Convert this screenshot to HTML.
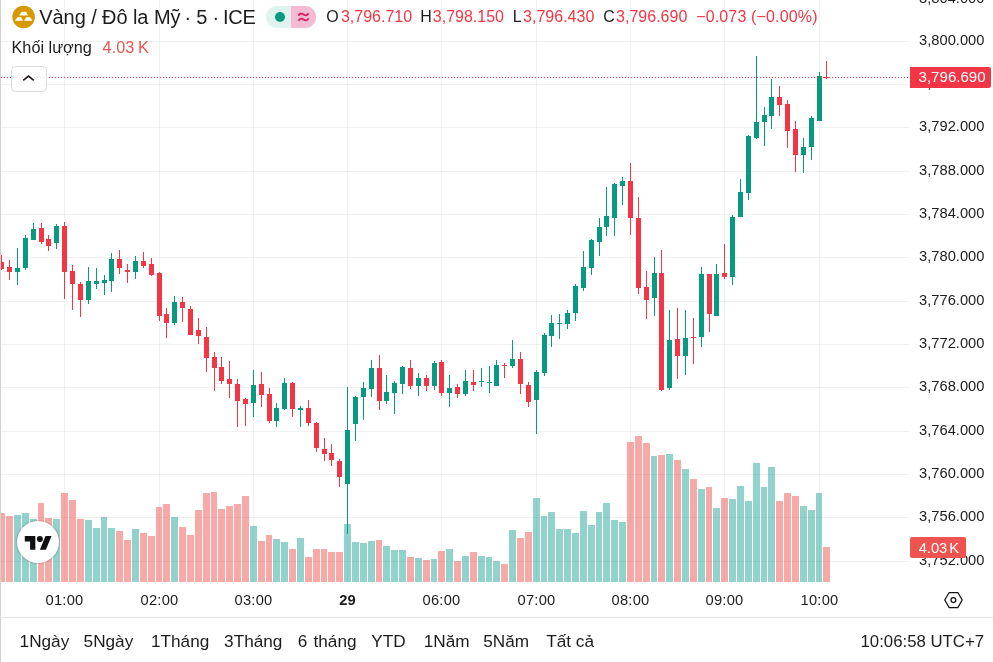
<!DOCTYPE html>
<html lang="vi"><head><meta charset="utf-8"><title>Vàng / Đô la Mỹ</title>
<style>
html,body{margin:0;padding:0;background:#fff;}
body{width:993px;height:662px;position:relative;overflow:hidden;font-family:"Liberation Sans",sans-serif;color:#1c1c1c;}
.chart{position:absolute;left:0;top:0;}
.abs{position:absolute;white-space:nowrap;}
.lb{position:absolute;left:0;top:0;width:1px;height:662px;background:#d2d2d2;}
.sep{position:absolute;left:0;top:617px;width:993px;height:1px;background:#e4e4e6;}
.pl{position:absolute;left:919.1px;width:70px;height:20px;line-height:20px;font-size:14.7px;white-space:nowrap;}
.tl{position:absolute;top:589.8px;width:80px;height:20px;line-height:20px;text-align:center;font-size:14.7px;letter-spacing:.2px;}
.tl.b{font-weight:bold;}
.title{left:39.3px;top:4.8px;height:24px;line-height:24px;font-size:20px;letter-spacing:-.175px;}
.oh{top:7.4px;height:20px;line-height:20px;font-size:16px;}
.red{color:#f23645;}
.vol{left:11.5px;top:36.6px;height:20px;line-height:20px;font-size:16.25px;}
.volv{left:102.6px;top:36.6px;height:20px;line-height:20px;font-size:16.25px;color:#ef5350;word-spacing:-.8px;}
.pill{position:absolute;left:266px;top:6px;width:50.3px;height:22px;border-radius:11px;overflow:hidden;background:#dff3ef;}
.pill .r{position:absolute;left:24.7px;top:0;width:26px;height:22px;background:#f4bbd2;}
.pill .d{position:absolute;left:9px;top:6px;width:10px;height:10px;border-radius:5px;background:#089981;}
.btn{position:absolute;left:11px;top:66px;width:33.8px;height:23.8px;border:1px solid #dadadc;border-radius:4.5px;background:rgba(255,255,255,.8);}
.ptag{position:absolute;left:910px;top:67px;width:81px;height:21px;border-radius:0 2.5px 2.5px 0;background:#f23645;color:#fff;font-size:15.1px;line-height:19px;text-indent:8.5px;}
.vtag{position:absolute;left:910px;top:537px;width:55.6px;height:21px;border-radius:2px;background:#ef5350;color:#fff;font-size:14.7px;line-height:22.6px;text-indent:8.7px;word-spacing:-2px;}
.tb{top:630px;height:22px;line-height:22px;font-size:17.2px;}
.clock{left:860.5px;top:630.6px;height:22px;line-height:22px;font-size:16.8px;}
.logo{position:absolute;left:16.7px;top:520.9px;width:42.4px;height:42.4px;border-radius:50%;background:#fff;box-shadow:0 0 0 1px rgba(0,0,0,.07),0 0 3px rgba(0,0,0,.18);}
</style></head><body>
<svg class="chart" width="993" height="662" viewBox="0 0 993 662" shape-rendering="crispEdges">
<rect x="1" y="41" width="908" height="1" fill="rgba(42,46,57,0.065)"/>
<rect x="1" y="84" width="908" height="1" fill="rgba(42,46,57,0.065)"/>
<rect x="1" y="127" width="908" height="1" fill="rgba(42,46,57,0.065)"/>
<rect x="1" y="171" width="908" height="1" fill="rgba(42,46,57,0.065)"/>
<rect x="1" y="214" width="908" height="1" fill="rgba(42,46,57,0.065)"/>
<rect x="1" y="257" width="908" height="1" fill="rgba(42,46,57,0.065)"/>
<rect x="1" y="301" width="908" height="1" fill="rgba(42,46,57,0.065)"/>
<rect x="1" y="344" width="908" height="1" fill="rgba(42,46,57,0.065)"/>
<rect x="1" y="387" width="908" height="1" fill="rgba(42,46,57,0.065)"/>
<rect x="1" y="431" width="908" height="1" fill="rgba(42,46,57,0.065)"/>
<rect x="1" y="474" width="908" height="1" fill="rgba(42,46,57,0.065)"/>
<rect x="1" y="517" width="908" height="1" fill="rgba(42,46,57,0.065)"/>
<rect x="1" y="561" width="908" height="1" fill="rgba(42,46,57,0.065)"/>
<rect x="64" y="0" width="1" height="582" fill="rgba(42,46,57,0.065)"/>
<rect x="159" y="0" width="1" height="582" fill="rgba(42,46,57,0.065)"/>
<rect x="253" y="0" width="1" height="582" fill="rgba(42,46,57,0.065)"/>
<rect x="347" y="0" width="1" height="582" fill="rgba(42,46,57,0.065)"/>
<rect x="441" y="0" width="1" height="582" fill="rgba(42,46,57,0.065)"/>
<rect x="536" y="0" width="1" height="582" fill="rgba(42,46,57,0.065)"/>
<rect x="630" y="0" width="1" height="582" fill="rgba(42,46,57,0.065)"/>
<rect x="724" y="0" width="1" height="582" fill="rgba(42,46,57,0.065)"/>
<rect x="819" y="0" width="1" height="582" fill="rgba(42,46,57,0.065)"/>
<rect x="1" y="513" width="4" height="69" fill="rgba(239,83,80,0.5)"/>
<rect x="6" y="516" width="7" height="66" fill="rgba(239,83,80,0.5)"/>
<rect x="14" y="515" width="7" height="67" fill="rgba(38,166,154,0.5)"/>
<rect x="22" y="513" width="7" height="69" fill="rgba(38,166,154,0.5)"/>
<rect x="30" y="519" width="7" height="63" fill="rgba(38,166,154,0.5)"/>
<rect x="38" y="503" width="6" height="79" fill="rgba(239,83,80,0.5)"/>
<rect x="45" y="518" width="7" height="64" fill="rgba(239,83,80,0.5)"/>
<rect x="53" y="519" width="7" height="63" fill="rgba(38,166,154,0.5)"/>
<rect x="61" y="493" width="7" height="89" fill="rgba(239,83,80,0.5)"/>
<rect x="69" y="500" width="7" height="82" fill="rgba(239,83,80,0.5)"/>
<rect x="77" y="519" width="7" height="63" fill="rgba(239,83,80,0.5)"/>
<rect x="85" y="520" width="7" height="62" fill="rgba(38,166,154,0.5)"/>
<rect x="93" y="528" width="7" height="54" fill="rgba(38,166,154,0.5)"/>
<rect x="101" y="517" width="6" height="65" fill="rgba(38,166,154,0.5)"/>
<rect x="108" y="528" width="7" height="54" fill="rgba(38,166,154,0.5)"/>
<rect x="116" y="531" width="7" height="51" fill="rgba(239,83,80,0.5)"/>
<rect x="124" y="540" width="7" height="42" fill="rgba(239,83,80,0.5)"/>
<rect x="132" y="529" width="7" height="53" fill="rgba(38,166,154,0.5)"/>
<rect x="140" y="533" width="7" height="49" fill="rgba(239,83,80,0.5)"/>
<rect x="148" y="536" width="7" height="46" fill="rgba(239,83,80,0.5)"/>
<rect x="156" y="507" width="6" height="75" fill="rgba(239,83,80,0.5)"/>
<rect x="163" y="504" width="7" height="78" fill="rgba(239,83,80,0.5)"/>
<rect x="171" y="517" width="7" height="65" fill="rgba(38,166,154,0.5)"/>
<rect x="179" y="527" width="7" height="55" fill="rgba(239,83,80,0.5)"/>
<rect x="187" y="535" width="7" height="47" fill="rgba(239,83,80,0.5)"/>
<rect x="195" y="510" width="7" height="72" fill="rgba(239,83,80,0.5)"/>
<rect x="203" y="493" width="7" height="89" fill="rgba(239,83,80,0.5)"/>
<rect x="211" y="492" width="6" height="90" fill="rgba(239,83,80,0.5)"/>
<rect x="218" y="509" width="7" height="73" fill="rgba(239,83,80,0.5)"/>
<rect x="226" y="506" width="7" height="76" fill="rgba(239,83,80,0.5)"/>
<rect x="234" y="504" width="7" height="78" fill="rgba(239,83,80,0.5)"/>
<rect x="242" y="496" width="7" height="86" fill="rgba(239,83,80,0.5)"/>
<rect x="250" y="526" width="7" height="56" fill="rgba(38,166,154,0.5)"/>
<rect x="258" y="541" width="7" height="41" fill="rgba(239,83,80,0.5)"/>
<rect x="266" y="535" width="6" height="47" fill="rgba(239,83,80,0.5)"/>
<rect x="273" y="539" width="7" height="43" fill="rgba(38,166,154,0.5)"/>
<rect x="281" y="542" width="7" height="40" fill="rgba(38,166,154,0.5)"/>
<rect x="289" y="549" width="7" height="33" fill="rgba(239,83,80,0.5)"/>
<rect x="297" y="538" width="7" height="44" fill="rgba(38,166,154,0.5)"/>
<rect x="305" y="557" width="7" height="25" fill="rgba(239,83,80,0.5)"/>
<rect x="313" y="549" width="7" height="33" fill="rgba(239,83,80,0.5)"/>
<rect x="321" y="549" width="6" height="33" fill="rgba(239,83,80,0.5)"/>
<rect x="328" y="552" width="7" height="30" fill="rgba(239,83,80,0.5)"/>
<rect x="336" y="552" width="7" height="30" fill="rgba(239,83,80,0.5)"/>
<rect x="344" y="524" width="7" height="58" fill="rgba(38,166,154,0.5)"/>
<rect x="352" y="542" width="7" height="40" fill="rgba(38,166,154,0.5)"/>
<rect x="360" y="543" width="7" height="39" fill="rgba(38,166,154,0.5)"/>
<rect x="368" y="541" width="7" height="41" fill="rgba(38,166,154,0.5)"/>
<rect x="376" y="540" width="6" height="42" fill="rgba(239,83,80,0.5)"/>
<rect x="383" y="546" width="7" height="36" fill="rgba(38,166,154,0.5)"/>
<rect x="391" y="550" width="7" height="32" fill="rgba(38,166,154,0.5)"/>
<rect x="399" y="550" width="7" height="32" fill="rgba(38,166,154,0.5)"/>
<rect x="407" y="557" width="7" height="25" fill="rgba(239,83,80,0.5)"/>
<rect x="415" y="558" width="7" height="24" fill="rgba(38,166,154,0.5)"/>
<rect x="423" y="560" width="7" height="22" fill="rgba(239,83,80,0.5)"/>
<rect x="431" y="559" width="6" height="23" fill="rgba(38,166,154,0.5)"/>
<rect x="438" y="551" width="7" height="31" fill="rgba(239,83,80,0.5)"/>
<rect x="446" y="549" width="7" height="33" fill="rgba(38,166,154,0.5)"/>
<rect x="454" y="561" width="7" height="21" fill="rgba(239,83,80,0.5)"/>
<rect x="462" y="556" width="7" height="26" fill="rgba(38,166,154,0.5)"/>
<rect x="470" y="552" width="7" height="30" fill="rgba(239,83,80,0.5)"/>
<rect x="478" y="556" width="7" height="26" fill="rgba(38,166,154,0.5)"/>
<rect x="486" y="557" width="6" height="25" fill="rgba(38,166,154,0.5)"/>
<rect x="493" y="561" width="7" height="21" fill="rgba(38,166,154,0.5)"/>
<rect x="501" y="564" width="7" height="18" fill="rgba(239,83,80,0.5)"/>
<rect x="509" y="530" width="7" height="52" fill="rgba(38,166,154,0.5)"/>
<rect x="517" y="538" width="7" height="44" fill="rgba(239,83,80,0.5)"/>
<rect x="525" y="532" width="7" height="50" fill="rgba(239,83,80,0.5)"/>
<rect x="533" y="498" width="7" height="84" fill="rgba(38,166,154,0.5)"/>
<rect x="541" y="516" width="6" height="66" fill="rgba(38,166,154,0.5)"/>
<rect x="548" y="512" width="7" height="70" fill="rgba(38,166,154,0.5)"/>
<rect x="556" y="529" width="7" height="53" fill="rgba(38,166,154,0.5)"/>
<rect x="564" y="529" width="7" height="53" fill="rgba(38,166,154,0.5)"/>
<rect x="572" y="533" width="7" height="49" fill="rgba(38,166,154,0.5)"/>
<rect x="580" y="511" width="7" height="71" fill="rgba(38,166,154,0.5)"/>
<rect x="588" y="525" width="7" height="57" fill="rgba(38,166,154,0.5)"/>
<rect x="596" y="512" width="6" height="70" fill="rgba(38,166,154,0.5)"/>
<rect x="603" y="503" width="7" height="79" fill="rgba(38,166,154,0.5)"/>
<rect x="611" y="520" width="7" height="62" fill="rgba(38,166,154,0.5)"/>
<rect x="619" y="522" width="7" height="60" fill="rgba(38,166,154,0.5)"/>
<rect x="627" y="442" width="7" height="140" fill="rgba(239,83,80,0.5)"/>
<rect x="635" y="436" width="7" height="146" fill="rgba(239,83,80,0.5)"/>
<rect x="643" y="443" width="7" height="139" fill="rgba(239,83,80,0.5)"/>
<rect x="651" y="456" width="6" height="126" fill="rgba(38,166,154,0.5)"/>
<rect x="658" y="455" width="7" height="127" fill="rgba(239,83,80,0.5)"/>
<rect x="666" y="454" width="7" height="128" fill="rgba(38,166,154,0.5)"/>
<rect x="674" y="460" width="7" height="122" fill="rgba(239,83,80,0.5)"/>
<rect x="682" y="469" width="7" height="113" fill="rgba(38,166,154,0.5)"/>
<rect x="690" y="479" width="7" height="103" fill="rgba(239,83,80,0.5)"/>
<rect x="698" y="489" width="7" height="93" fill="rgba(38,166,154,0.5)"/>
<rect x="706" y="487" width="6" height="95" fill="rgba(239,83,80,0.5)"/>
<rect x="713" y="508" width="7" height="74" fill="rgba(38,166,154,0.5)"/>
<rect x="721" y="498" width="7" height="84" fill="rgba(239,83,80,0.5)"/>
<rect x="729" y="499" width="7" height="83" fill="rgba(38,166,154,0.5)"/>
<rect x="737" y="486" width="7" height="96" fill="rgba(38,166,154,0.5)"/>
<rect x="745" y="501" width="7" height="81" fill="rgba(38,166,154,0.5)"/>
<rect x="753" y="463" width="7" height="119" fill="rgba(38,166,154,0.5)"/>
<rect x="761" y="487" width="6" height="95" fill="rgba(38,166,154,0.5)"/>
<rect x="768" y="467" width="7" height="115" fill="rgba(38,166,154,0.5)"/>
<rect x="776" y="501" width="7" height="81" fill="rgba(239,83,80,0.5)"/>
<rect x="784" y="493" width="7" height="89" fill="rgba(239,83,80,0.5)"/>
<rect x="792" y="496" width="7" height="86" fill="rgba(239,83,80,0.5)"/>
<rect x="800" y="506" width="7" height="76" fill="rgba(38,166,154,0.5)"/>
<rect x="808" y="510" width="7" height="72" fill="rgba(38,166,154,0.5)"/>
<rect x="816" y="493" width="6" height="89" fill="rgba(38,166,154,0.5)"/>
<rect x="823" y="547" width="7" height="35" fill="rgba(239,83,80,0.5)"/>
<rect x="1" y="255" width="1" height="15" fill="#f23645"/>
<rect x="1" y="262" width="3" height="7" fill="#f23645"/>
<rect x="9" y="260" width="1" height="20" fill="#f23645"/>
<rect x="7" y="267" width="5" height="5" fill="#f23645"/>
<rect x="17" y="248" width="1" height="37" fill="#089981"/>
<rect x="15" y="268" width="5" height="4" fill="#089981"/>
<rect x="25" y="235" width="1" height="35" fill="#089981"/>
<rect x="23" y="238" width="5" height="30" fill="#089981"/>
<rect x="33" y="223" width="1" height="17" fill="#089981"/>
<rect x="31" y="229" width="5" height="11" fill="#089981"/>
<rect x="41" y="223" width="1" height="21" fill="#f23645"/>
<rect x="39" y="228" width="5" height="14" fill="#f23645"/>
<rect x="48" y="235" width="1" height="16" fill="#f23645"/>
<rect x="46" y="239" width="5" height="7" fill="#f23645"/>
<rect x="56" y="224" width="1" height="25" fill="#089981"/>
<rect x="54" y="226" width="5" height="17" fill="#089981"/>
<rect x="64" y="222" width="1" height="77" fill="#f23645"/>
<rect x="62" y="226" width="5" height="46" fill="#f23645"/>
<rect x="72" y="265" width="1" height="45" fill="#f23645"/>
<rect x="70" y="271" width="5" height="13" fill="#f23645"/>
<rect x="80" y="282" width="1" height="35" fill="#f23645"/>
<rect x="78" y="284" width="5" height="16" fill="#f23645"/>
<rect x="88" y="267" width="1" height="37" fill="#089981"/>
<rect x="86" y="281" width="5" height="19" fill="#089981"/>
<rect x="96" y="268" width="1" height="21" fill="#089981"/>
<rect x="94" y="281" width="5" height="3" fill="#089981"/>
<rect x="104" y="275" width="1" height="20" fill="#089981"/>
<rect x="102" y="280" width="5" height="3" fill="#089981"/>
<rect x="111" y="253" width="1" height="39" fill="#089981"/>
<rect x="109" y="259" width="5" height="22" fill="#089981"/>
<rect x="119" y="250" width="1" height="24" fill="#f23645"/>
<rect x="117" y="259" width="5" height="9" fill="#f23645"/>
<rect x="127" y="264" width="1" height="19" fill="#f23645"/>
<rect x="125" y="270" width="5" height="2" fill="#f23645"/>
<rect x="135" y="256" width="1" height="23" fill="#089981"/>
<rect x="133" y="261" width="5" height="11" fill="#089981"/>
<rect x="143" y="252" width="1" height="16" fill="#f23645"/>
<rect x="141" y="261" width="5" height="5" fill="#f23645"/>
<rect x="151" y="258" width="1" height="18" fill="#f23645"/>
<rect x="149" y="264" width="5" height="11" fill="#f23645"/>
<rect x="159" y="272" width="1" height="49" fill="#f23645"/>
<rect x="157" y="273" width="5" height="43" fill="#f23645"/>
<rect x="166" y="308" width="1" height="30" fill="#f23645"/>
<rect x="164" y="314" width="5" height="9" fill="#f23645"/>
<rect x="174" y="296" width="1" height="29" fill="#089981"/>
<rect x="172" y="302" width="5" height="21" fill="#089981"/>
<rect x="182" y="297" width="1" height="25" fill="#f23645"/>
<rect x="180" y="302" width="5" height="6" fill="#f23645"/>
<rect x="190" y="306" width="1" height="29" fill="#f23645"/>
<rect x="188" y="309" width="5" height="26" fill="#f23645"/>
<rect x="198" y="318" width="1" height="26" fill="#f23645"/>
<rect x="196" y="330" width="5" height="6" fill="#f23645"/>
<rect x="206" y="327" width="1" height="45" fill="#f23645"/>
<rect x="204" y="337" width="5" height="21" fill="#f23645"/>
<rect x="214" y="352" width="1" height="39" fill="#f23645"/>
<rect x="212" y="357" width="5" height="11" fill="#f23645"/>
<rect x="221" y="357" width="1" height="27" fill="#f23645"/>
<rect x="219" y="367" width="5" height="14" fill="#f23645"/>
<rect x="229" y="361" width="1" height="37" fill="#f23645"/>
<rect x="227" y="379" width="5" height="5" fill="#f23645"/>
<rect x="237" y="379" width="1" height="48" fill="#f23645"/>
<rect x="235" y="384" width="5" height="17" fill="#f23645"/>
<rect x="245" y="398" width="1" height="28" fill="#f23645"/>
<rect x="243" y="399" width="5" height="5" fill="#f23645"/>
<rect x="253" y="370" width="1" height="47" fill="#089981"/>
<rect x="251" y="385" width="5" height="18" fill="#089981"/>
<rect x="261" y="372" width="1" height="35" fill="#f23645"/>
<rect x="259" y="384" width="5" height="11" fill="#f23645"/>
<rect x="269" y="388" width="1" height="35" fill="#f23645"/>
<rect x="267" y="394" width="5" height="27" fill="#f23645"/>
<rect x="276" y="403" width="1" height="24" fill="#089981"/>
<rect x="274" y="408" width="5" height="13" fill="#089981"/>
<rect x="284" y="378" width="1" height="32" fill="#089981"/>
<rect x="282" y="383" width="5" height="26" fill="#089981"/>
<rect x="292" y="382" width="1" height="35" fill="#f23645"/>
<rect x="290" y="383" width="5" height="26" fill="#f23645"/>
<rect x="300" y="406" width="1" height="21" fill="#089981"/>
<rect x="298" y="408" width="5" height="2" fill="#089981"/>
<rect x="308" y="400" width="1" height="26" fill="#f23645"/>
<rect x="306" y="408" width="5" height="15" fill="#f23645"/>
<rect x="316" y="422" width="1" height="30" fill="#f23645"/>
<rect x="314" y="423" width="5" height="25" fill="#f23645"/>
<rect x="324" y="438" width="1" height="23" fill="#f23645"/>
<rect x="322" y="449" width="5" height="5" fill="#f23645"/>
<rect x="331" y="444" width="1" height="22" fill="#f23645"/>
<rect x="329" y="453" width="5" height="7" fill="#f23645"/>
<rect x="339" y="459" width="1" height="28" fill="#f23645"/>
<rect x="337" y="461" width="5" height="16" fill="#f23645"/>
<rect x="347" y="387" width="1" height="147" fill="#089981"/>
<rect x="345" y="430" width="5" height="54" fill="#089981"/>
<rect x="355" y="396" width="1" height="45" fill="#089981"/>
<rect x="353" y="397" width="5" height="27" fill="#089981"/>
<rect x="363" y="382" width="1" height="38" fill="#089981"/>
<rect x="361" y="388" width="5" height="9" fill="#089981"/>
<rect x="371" y="360" width="1" height="37" fill="#089981"/>
<rect x="369" y="368" width="5" height="21" fill="#089981"/>
<rect x="379" y="355" width="1" height="55" fill="#f23645"/>
<rect x="377" y="368" width="5" height="33" fill="#f23645"/>
<rect x="386" y="375" width="1" height="29" fill="#089981"/>
<rect x="384" y="392" width="5" height="9" fill="#089981"/>
<rect x="394" y="381" width="1" height="33" fill="#089981"/>
<rect x="392" y="383" width="5" height="10" fill="#089981"/>
<rect x="402" y="366" width="1" height="28" fill="#089981"/>
<rect x="400" y="367" width="5" height="17" fill="#089981"/>
<rect x="410" y="360" width="1" height="29" fill="#f23645"/>
<rect x="408" y="368" width="5" height="18" fill="#f23645"/>
<rect x="418" y="373" width="1" height="23" fill="#089981"/>
<rect x="416" y="378" width="5" height="8" fill="#089981"/>
<rect x="426" y="375" width="1" height="16" fill="#f23645"/>
<rect x="424" y="378" width="5" height="8" fill="#f23645"/>
<rect x="434" y="361" width="1" height="29" fill="#089981"/>
<rect x="432" y="363" width="5" height="23" fill="#089981"/>
<rect x="441" y="360" width="1" height="36" fill="#f23645"/>
<rect x="439" y="362" width="5" height="31" fill="#f23645"/>
<rect x="449" y="375" width="1" height="32" fill="#089981"/>
<rect x="447" y="388" width="5" height="5" fill="#089981"/>
<rect x="457" y="384" width="1" height="14" fill="#f23645"/>
<rect x="455" y="387" width="5" height="7" fill="#f23645"/>
<rect x="465" y="370" width="1" height="26" fill="#089981"/>
<rect x="463" y="381" width="5" height="13" fill="#089981"/>
<rect x="473" y="370" width="1" height="21" fill="#f23645"/>
<rect x="471" y="382" width="5" height="3" fill="#f23645"/>
<rect x="481" y="368" width="1" height="19" fill="#089981"/>
<rect x="479" y="381" width="5" height="1" fill="#089981"/>
<rect x="489" y="366" width="1" height="27" fill="#089981"/>
<rect x="487" y="382" width="5" height="1" fill="#089981"/>
<rect x="496" y="360" width="1" height="26" fill="#089981"/>
<rect x="494" y="365" width="5" height="21" fill="#089981"/>
<rect x="504" y="363" width="1" height="15" fill="#f23645"/>
<rect x="502" y="365" width="5" height="1" fill="#f23645"/>
<rect x="512" y="340" width="1" height="28" fill="#089981"/>
<rect x="510" y="359" width="5" height="7" fill="#089981"/>
<rect x="520" y="352" width="1" height="42" fill="#f23645"/>
<rect x="518" y="359" width="5" height="25" fill="#f23645"/>
<rect x="528" y="382" width="1" height="25" fill="#f23645"/>
<rect x="526" y="385" width="5" height="17" fill="#f23645"/>
<rect x="536" y="370" width="1" height="64" fill="#089981"/>
<rect x="534" y="372" width="5" height="28" fill="#089981"/>
<rect x="544" y="333" width="1" height="43" fill="#089981"/>
<rect x="542" y="335" width="5" height="38" fill="#089981"/>
<rect x="551" y="315" width="1" height="32" fill="#089981"/>
<rect x="549" y="323" width="5" height="13" fill="#089981"/>
<rect x="559" y="314" width="1" height="25" fill="#089981"/>
<rect x="557" y="323" width="5" height="1" fill="#089981"/>
<rect x="567" y="310" width="1" height="19" fill="#089981"/>
<rect x="565" y="313" width="5" height="11" fill="#089981"/>
<rect x="575" y="284" width="1" height="37" fill="#089981"/>
<rect x="573" y="286" width="5" height="27" fill="#089981"/>
<rect x="583" y="251" width="1" height="40" fill="#089981"/>
<rect x="581" y="267" width="5" height="21" fill="#089981"/>
<rect x="591" y="239" width="1" height="36" fill="#089981"/>
<rect x="589" y="240" width="5" height="28" fill="#089981"/>
<rect x="599" y="218" width="1" height="38" fill="#089981"/>
<rect x="597" y="227" width="5" height="15" fill="#089981"/>
<rect x="606" y="187" width="1" height="49" fill="#089981"/>
<rect x="604" y="216" width="5" height="11" fill="#089981"/>
<rect x="614" y="183" width="1" height="53" fill="#089981"/>
<rect x="612" y="184" width="5" height="34" fill="#089981"/>
<rect x="622" y="177" width="1" height="28" fill="#089981"/>
<rect x="620" y="181" width="5" height="5" fill="#089981"/>
<rect x="630" y="163" width="1" height="72" fill="#f23645"/>
<rect x="628" y="181" width="5" height="37" fill="#f23645"/>
<rect x="638" y="197" width="1" height="97" fill="#f23645"/>
<rect x="636" y="218" width="5" height="70" fill="#f23645"/>
<rect x="646" y="271" width="1" height="48" fill="#f23645"/>
<rect x="644" y="287" width="5" height="13" fill="#f23645"/>
<rect x="654" y="257" width="1" height="59" fill="#089981"/>
<rect x="652" y="273" width="5" height="25" fill="#089981"/>
<rect x="661" y="250" width="1" height="141" fill="#f23645"/>
<rect x="659" y="273" width="5" height="117" fill="#f23645"/>
<rect x="669" y="310" width="1" height="80" fill="#089981"/>
<rect x="667" y="340" width="5" height="48" fill="#089981"/>
<rect x="677" y="308" width="1" height="71" fill="#f23645"/>
<rect x="675" y="339" width="5" height="17" fill="#f23645"/>
<rect x="685" y="310" width="1" height="65" fill="#089981"/>
<rect x="683" y="338" width="5" height="18" fill="#089981"/>
<rect x="693" y="318" width="1" height="46" fill="#f23645"/>
<rect x="691" y="337" width="5" height="1" fill="#f23645"/>
<rect x="701" y="267" width="1" height="80" fill="#089981"/>
<rect x="699" y="274" width="5" height="63" fill="#089981"/>
<rect x="709" y="274" width="1" height="58" fill="#f23645"/>
<rect x="707" y="274" width="5" height="40" fill="#f23645"/>
<rect x="716" y="264" width="1" height="52" fill="#089981"/>
<rect x="714" y="274" width="5" height="42" fill="#089981"/>
<rect x="724" y="244" width="1" height="35" fill="#f23645"/>
<rect x="722" y="273" width="5" height="4" fill="#f23645"/>
<rect x="732" y="215" width="1" height="70" fill="#089981"/>
<rect x="730" y="217" width="5" height="60" fill="#089981"/>
<rect x="740" y="179" width="1" height="38" fill="#089981"/>
<rect x="738" y="192" width="5" height="25" fill="#089981"/>
<rect x="748" y="135" width="1" height="65" fill="#089981"/>
<rect x="746" y="136" width="5" height="57" fill="#089981"/>
<rect x="756" y="56" width="1" height="83" fill="#089981"/>
<rect x="754" y="122" width="5" height="16" fill="#089981"/>
<rect x="764" y="107" width="1" height="39" fill="#089981"/>
<rect x="762" y="115" width="5" height="7" fill="#089981"/>
<rect x="771" y="79" width="1" height="50" fill="#089981"/>
<rect x="769" y="97" width="5" height="19" fill="#089981"/>
<rect x="779" y="86" width="1" height="30" fill="#f23645"/>
<rect x="777" y="97" width="5" height="8" fill="#f23645"/>
<rect x="787" y="100" width="1" height="48" fill="#f23645"/>
<rect x="785" y="104" width="5" height="27" fill="#f23645"/>
<rect x="795" y="121" width="1" height="51" fill="#f23645"/>
<rect x="793" y="129" width="5" height="26" fill="#f23645"/>
<rect x="803" y="138" width="1" height="35" fill="#089981"/>
<rect x="801" y="147" width="5" height="8" fill="#089981"/>
<rect x="811" y="116" width="1" height="44" fill="#089981"/>
<rect x="809" y="118" width="5" height="29" fill="#089981"/>
<rect x="819" y="72" width="1" height="49" fill="#089981"/>
<rect x="817" y="76" width="5" height="45" fill="#089981"/>
<rect x="826" y="61" width="1" height="18" fill="#f23645"/>
<rect x="824" y="77" width="5" height="1" fill="#f23645"/>
<line x1="1" y1="77.5" x2="909" y2="77.5" stroke="#f23645" stroke-width="1" stroke-dasharray="1 2"/>
</svg>
<div class="lb"></div>
<div class="sep"></div>
<div class="pl" style="top:-12.5px">3,804.000</div><div class="pl" style="top:29.9px">3,800.000</div><div class="pl" style="top:72.9px">3,796.000</div><div class="pl" style="top:115.9px">3,792.000</div><div class="pl" style="top:159.9px">3,788.000</div><div class="pl" style="top:202.9px">3,784.000</div><div class="pl" style="top:245.9px">3,780.000</div><div class="pl" style="top:289.9px">3,776.000</div><div class="pl" style="top:332.9px">3,772.000</div><div class="pl" style="top:375.9px">3,768.000</div><div class="pl" style="top:419.9px">3,764.000</div><div class="pl" style="top:462.9px">3,760.000</div><div class="pl" style="top:505.9px">3,756.000</div><div class="pl" style="top:549.9px">3,752.000</div>
<div class="tl" style="left:24.5px">01:00</div><div class="tl" style="left:119.5px">02:00</div><div class="tl" style="left:213.5px">03:00</div><div class="tl b" style="left:307.5px">29</div><div class="tl" style="left:401.5px">06:00</div><div class="tl" style="left:496.5px">07:00</div><div class="tl" style="left:590.5px">08:00</div><div class="tl" style="left:684.5px">09:00</div><div class="tl" style="left:779.5px">10:00</div>
<svg class="abs" style="left:12px;top:5px" width="24" height="24" viewBox="0 0 24 24"><circle cx="11.6" cy="11.96" r="11.3" fill="#d69a00"/><path d="M9.6 6.75h4.53l1.82 3.85H7.1zM5.3 12.19h3.85l1.81 3.61H2.8zM14.13 12.19h4.07l2.05 3.61H12.1z" fill="#fff"/></svg>
<div class="abs title"><span style="letter-spacing:-.08px">Vàng / Đô la Mỹ</span><span style="margin-left:-1.4px"> · 5 · </span><span style="margin-left:-1.5px">ICE</span></div>
<div class="pill"><div class="d"></div><div class="r"><svg width="26" height="22" viewBox="0 0 26 22" style="position:absolute;left:0;top:0"><path d="M7.4 9.8Q9.4 6.2 12.5 8.4T17.6 7.3M7.4 14.9Q9.4 11.3 12.5 13.5T17.6 12.4" fill="none" stroke="#d81b60" stroke-width="1.8"/></svg></div></div>
<div class="abs oh" style="left:326.3px">O</div><div class="abs oh red" style="left:340.9px">3,796.710</div>
<div class="abs oh" style="left:420.3px">H</div><div class="abs oh red" style="left:432.8px">3,798.150</div>
<div class="abs oh" style="left:512.8px">L</div><div class="abs oh red" style="left:523.1px">3,796.430</div>
<div class="abs oh" style="left:603.3px">C</div><div class="abs oh red" style="left:616.1px">3,796.690</div>
<div class="abs oh red" style="left:696.2px;letter-spacing:.15px">−0.073 (−0.00%)</div>
<div class="abs vol">Khối lượng</div><div class="abs volv">4.03 K</div>
<div class="btn"><svg width="33" height="24" viewBox="0 0 33 24" style="position:absolute;left:.5px;top:0"><path d="M10.2 13.4l5.3-4.3 5.3 4.3" fill="none" stroke="#1c1c1c" stroke-width="1.6"/></svg></div>
<div class="ptag">3,796.690</div>
<div class="vtag">4.03 K</div>
<div class="logo"><svg width="43" height="43" viewBox="0 0 43 43" style="position:absolute;left:0;top:0"><g transform="translate(7.8,12.1) scale(0.753)" fill="#111"><path d="M14 22H7V11H0V4h14v18zM28 22h-8l7.5-18h8L28 22z"/><circle cx="20" cy="8" r="4"/></g></svg></div>
<svg class="abs" style="left:942px;top:589px" width="24" height="22" viewBox="0 0 24 22"><path d="M7.2 3.55h8.7l4.3 7.5-4.3 7.45H7.2L2.75 11.05z" fill="none" stroke="#111" stroke-width="1.25"/><circle cx="11.4" cy="11.1" r="2.4" fill="none" stroke="#111" stroke-width="1.25"/></svg>
<div class="abs tb" style="left:19.6px">1Ngày</div>
<div class="abs tb" style="left:83.6px">5Ngày</div>
<div class="abs tb" style="left:151px">1Tháng</div>
<div class="abs tb" style="left:224.1px">3Tháng</div>
<div class="abs tb" style="left:297.7px;word-spacing:1.5px">6 tháng</div>
<div class="abs tb" style="left:371.2px">YTD</div>
<div class="abs tb" style="left:423.7px">1Năm</div>
<div class="abs tb" style="left:483.3px">5Năm</div>
<div class="abs tb" style="left:546.2px">Tất cả</div>
<div class="abs clock">10:06:58 UTC+7</div>
</body></html>
